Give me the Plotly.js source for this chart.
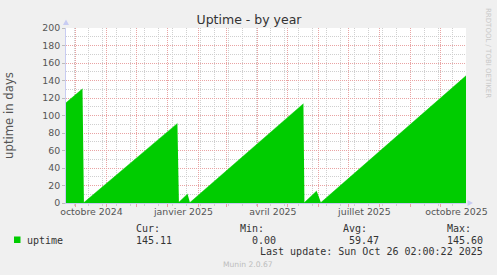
<!DOCTYPE html>
<html>
<head>
<meta charset="utf-8">
<script src="https://cdn.plot.ly/plotly-3.0.1.min.js"></script>
<style>
html,body{margin:0;padding:0;background:#F0F0F0;}
#chart{width:497px;height:275px;}
</style>
</head>
<body>
<div id="chart"></div>
<script>
// ---- data ----
const uptimeDates = [
  '2024-09-21 02:00', '2024-10-07 14:00', '2024-10-08 06:00',
  '2024-10-09 00:00', '2025-01-10 12:00', '2025-01-11 06:00',
  '2025-01-12 00:00', '2025-01-20 16:00', '2025-01-21 12:00',
  '2025-01-23 00:00', '2025-05-16 12:00', '2025-05-17 00:00',
  '2025-05-17 12:00', '2025-05-29 18:00', '2025-06-01 00:00',
  '2025-06-03 00:00', '2025-10-26 02:00'
];
const uptimeDays = [
  114.5, 130.5, null,
  0.5, 91, null,
  1, 10.3, null,
  0.5, 113.5, null,
  0.5, 13.8, null,
  0.5, 145.4
];
const seriesName = 'uptime';
const monthLabels = ['octobre 2024', 'janvier 2025', 'avril 2025', 'juillet 2025', 'octobre 2025'];
const monthLabelDates = ['2024-10-16 12:00', '2025-01-16 12:00', '2025-04-16 00:00', '2025-07-16 12:00', '2025-10-16 12:00'];
const yTicks = [0, 20, 40, 60, 80, 100, 120, 140, 160, 180, 200];
const statLabels = ['Cur:', 'Min:', 'Avg:', 'Max:'];
const statValues = ['145.11', '0.00', '59.47', '145.60'];
const lastUpdate = 'Last update: Sun Oct 26 02:00:22 2025';
const xRange = ['2024-09-21 02:00', '2025-10-26 02:00'];

// ---- layout geometry ----
const W = 497, H = 275, L = 66, R = 31, T = 28, B = 72;
const PW = W - L - R, PH = H - T - B;
const px = p => (p - L) / PW;
const py = p => (T + PH - p) / PH;

const GREEN = '#00CC00';
const MGRID = '#E9A3A3';
const GRID = '#CFCFCF';
const AXIS = '#C8CCF2';
const mono = 'DejaVu Sans Mono';
const sans = 'DejaVu Sans';

const trace = {
  type: 'scatter', mode: 'lines', name: seriesName,
  x: uptimeDates, y: uptimeDays,
  fill: 'tozeroy', fillcolor: GREEN,
  line: {color: GREEN, width: 0.5, shape: 'linear'},
  connectgaps: false, showlegend: false, hoverinfo: 'skip'
};
// empty helper trace so the label axis (x2) is created
const labelAxisTrace = {
  type: 'scatter', mode: 'lines', x: [], y: [], xaxis: 'x2', yaxis: 'y',
  showlegend: false, hoverinfo: 'skip'
};

function txt(text, xp, yp, opts) {
  return Object.assign({
    text: text, xref: 'paper', yref: 'paper', x: px(xp), y: py(yp),
    xanchor: 'left', yanchor: 'middle', showarrow: false,
    borderpad: 0, borderwidth: 0,
    font: {family: mono, size: 10, color: '#333'}
  }, opts || {});
}

const statX = [136, 240, 343, 447];
const valX = [136, 252, 349, 447];
const annotations = [];
annotations.push(txt(seriesName, 27, 240));
statLabels.forEach((s, i) => annotations.push(txt(s, statX[i], 228.5)));
statValues.forEach((s, i) => annotations.push(txt(s, valX[i], 240)));
annotations.push(txt(lastUpdate, 483, 251, {xanchor: 'right'}));
annotations.push(txt('Munin 2.0.67', 248, 264, {xanchor: 'center', font: {family: sans, size: 7.6, color: '#BDBDBD'}}));
annotations.push(txt('RRDTOOL / TOBI OETIKER', 488, 53, {xanchor: 'center', textangle: 90, font: {family: sans, size: 7, color: '#C8C8C8'}}));

// axis arrow heads (decoration, paper coordinates)
function tri(pts) {
  return 'M' + pts.map(p => px(p[0]) + ',' + py(p[1])).join('L') + 'Z';
}
const shapes = [
  {type: 'rect', xref: 'paper', yref: 'paper',
   x0: px(14), x1: px(20.5), y0: py(243), y1: py(236.5),
   fillcolor: GREEN, line: {width: 0}},
  {type: 'path', xref: 'paper', yref: 'paper', path: tri([[63, 25], [69, 25], [66, 19.5]]),
   fillcolor: AXIS, line: {width: 0}},
  {type: 'path', xref: 'paper', yref: 'paper', path: tri([[467.5, 200], [467.5, 206], [473, 203]]),
   fillcolor: AXIS, line: {width: 0}}
];

const layout = {
  width: W, height: H,
  margin: {l: L, r: R, t: T, b: B, pad: 0},
  paper_bgcolor: '#F0F0F0', plot_bgcolor: '#FFFFFF',
  showlegend: false,
  title: {
    text: 'Uptime - by year', font: {family: sans, size: 12.5, color: '#333'},
    x: 249 / W, xanchor: 'center', xref: 'container',
    y: 1 - 19.5 / H, yanchor: 'middle', yref: 'container'
  },
  xaxis: {
    type: 'date', range: xRange, fixedrange: true,
    showticklabels: false,
    tick0: '2024-10-01', dtick: 'M1',
    ticks: 'outside', ticklen: 3, tickcolor: MGRID, tickwidth: 1,
    showgrid: true, gridcolor: MGRID, griddash: '1px,1px', gridwidth: 1,
    minor: {
      tick0: '2024-09-30', dtick: 14 * 86400000,
      showgrid: true, gridcolor: GRID, griddash: '1px,1px', gridwidth: 1,
      ticks: 'outside', ticklen: 2, tickcolor: GRID
    },
    showline: true, linecolor: AXIS, linewidth: 1,
    zeroline: false
  },
  xaxis2: {
    type: 'date', range: xRange, overlaying: 'x', anchor: 'y', side: 'bottom',
    tickmode: 'array', tickvals: monthLabelDates, ticktext: monthLabels,
    ticks: '', ticklen: 0, ticklabelstandoff: 2, showgrid: false, showline: false, zeroline: false,
    tickfont: {family: sans, size: 9.4, color: '#555'}, fixedrange: true
  },
  yaxis: {
    range: [0, 200], fixedrange: true,
    tickmode: 'array', tickvals: yTicks,
    ticks: 'outside', ticklen: 3, tickcolor: '#BBBBBB',
    tickfont: {family: sans, size: 9.4, color: '#555'},
    showgrid: true, gridcolor: MGRID, griddash: '1px,1px', gridwidth: 1,
    minor: {dtick: 10, showgrid: true, gridcolor: GRID, griddash: '1px,1px', gridwidth: 1},
    showline: true, linecolor: AXIS, linewidth: 1, zeroline: false,
    title: {text: 'uptime in days', font: {family: sans, size: 11.7, color: '#555'}, standoff: 26}
  },
  annotations: annotations,
  shapes: shapes
};

Plotly.newPlot('chart', [trace, labelAxisTrace], layout, {staticPlot: true, displayModeBar: false});
</script>
</body>
</html>
